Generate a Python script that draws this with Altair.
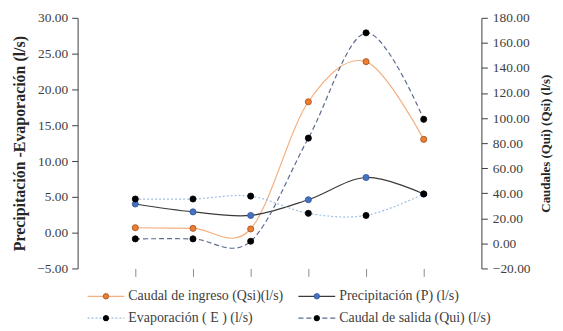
import altair as alt
import pandas as pd

# ---- data ----
periods = [1, 2, 3, 4, 5, 6]
caudal_ingreso = [12.5, 12.0, 11.5, 113.0, 145.0, 83.0]   # right axis
precipitacion = [4.0, 2.9, 2.4, 4.6, 7.7, 5.4]            # left axis
evaporacion = [4.7, 4.7, 5.1, 2.7, 2.4, 5.4]              # left axis
caudal_salida = [3.6, 3.6, 1.7, 84.0, 168.0, 99.0]         # right axis

left_ticks = [-5, 0, 5, 10, 15, 20, 25, 30]
right_ticks = [-20, 0, 20, 40, 60, 80, 100, 120, 140, 160, 180]

legend_labels = [
    "Caudal de ingreso (Qsi)(l/s)",
    "Precipitación (P) (l/s)",
    "Evaporación ( E ) (l/s)",
    "Caudal de salida (Qui) (l/s)",
]

df = pd.DataFrame({
    "t": periods,
    "qsi": caudal_ingreso,
    "p": precipitacion,
    "e": evaporacion,
    "qui": caudal_salida,
})

FONT = "Liberation Serif, Times New Roman, serif"
TXT = "#404040"

# styles per series (line colour, dash, marker fill, marker stroke)
STY = {
    "qsi": dict(line="#F4B183", dash=None, fill="#ED7D31", stroke="#9E4F1A"),
    "p": dict(line="#3A3A3A", dash=None, fill="#4472C4", stroke="#2F528F"),
    "e": dict(line="#9DBEE3", dash=[2, 2], fill="#000000", stroke="#000000"),
    "qui": dict(line="#5B6C8F", dash=[5, 3], fill="#000000", stroke="#000000"),
}

x_enc = alt.X(
    "t:Q",
    scale=alt.Scale(domain=[0, 7], nice=False, zero=False),
    axis=alt.Axis(values=periods, labels=False, domain=False, grid=False,
                  ticks=True, tickSize=8, tickColor="#8c8c8c", title=None),
)

left_scale = alt.Scale(domain=[-5, 30], nice=False, zero=False)
right_scale = alt.Scale(domain=[-20, 180], nice=False, zero=False)

left_axis = alt.Axis(
    orient="left", values=left_ticks, format=".2f", grid=False,
    labelFont=FONT, labelFontSize=13.5, labelColor=TXT, labelPadding=4,
    tickSize=6, tickColor=TXT, domainColor=TXT,
    title="Precipitación -Evaporación (l/s)", titleFont=FONT, titleFontSize=16,
    titleFontWeight="bold", titleColor="#262626", titleAngle=270,
    titleX=-58, titleY=126, titleAlign="center", titleBaseline="middle",
)
right_axis = alt.Axis(
    orient="right", values=right_ticks, format=".2f", grid=False,
    labelFont=FONT, labelFontSize=13.5, labelColor=TXT, labelPadding=5,
    tickSize=6, tickColor=TXT, domainColor=TXT,
    title="Caudales (Qui) (Qsi) (l/s)", titleFont=FONT, titleFontSize=13,
    titleFontWeight="bold", titleColor="#262626", titleAngle=270,
    titleX=64, titleY=126, titleAlign="center", titleBaseline="middle",
)


def series(field, scale, axis):
    s = STY[field]
    if axis is None:
        y = alt.Y(f"{field}:Q", scale=scale, axis=None)
    else:
        y = alt.Y(f"{field}:Q", scale=scale, axis=axis)
    base = alt.Chart(df).encode(x=x_enc, y=y)
    line_kw = dict(interpolate="cardinal", color=s["line"], strokeWidth=1.2)
    if s["dash"] is not None:
        line_kw["strokeDash"] = s["dash"]
    line = base.mark_line(**line_kw)
    pts = base.mark_point(filled=True, shape="circle", size=38, fill=s["fill"],
                          stroke=s["stroke"], strokeWidth=0.8, opacity=1)
    return alt.layer(line, pts)


qsi_layer = series("qsi", right_scale, right_axis)
p_layer = series("p", left_scale, left_axis)
e_layer = series("e", left_scale, None)
qui_layer = series("qui", right_scale, None)

# ---- custom legend (layout constants, relative to plot origin) ----
LEG_COL_X = [10, 222]   # line start per column
LEG_ROW_Y = [280, 302]  # row centre
LEG_LINE_LEN = 37
LEG_TEXT_GAP = 4
keys = ["qsi", "p", "e", "qui"]
rows = []
for i, (k, lab) in enumerate(zip(keys, legend_labels)):
    c, r = i % 2, i // 2
    x0 = LEG_COL_X[c]
    rows.append(dict(key=k, label=lab, x0=x0, x1=x0 + LEG_LINE_LEN,
                     xd=x0 + LEG_LINE_LEN / 2,
                     xt=x0 + LEG_LINE_LEN + LEG_TEXT_GAP, yy=LEG_ROW_Y[r]))
leg = pd.DataFrame(rows)

dash_range = [STY[k]["dash"] if STY[k]["dash"] is not None else [1, 0] for k in keys]
leg_base = alt.Chart(leg)
leg_rule = leg_base.mark_rule(strokeWidth=1.2).encode(
    x=alt.X("x0:Q", scale=None, axis=None),
    x2="x1:Q",
    y=alt.Y("yy:Q", scale=None, axis=None),
    color=alt.Color("key:N", scale=alt.Scale(domain=keys, range=[STY[k]["line"] for k in keys]), legend=None),
    strokeDash=alt.StrokeDash("key:N", scale=alt.Scale(domain=keys, range=dash_range), legend=None),
)
leg_pts = leg_base.mark_point(filled=True, shape="circle", size=30, strokeWidth=0.8, opacity=1).encode(
    x=alt.X("xd:Q", scale=None, axis=None),
    y=alt.Y("yy:Q", scale=None, axis=None),
    fill=alt.Fill("key:N", scale=alt.Scale(domain=keys, range=[STY[k]["fill"] for k in keys]), legend=None),
    stroke=alt.Stroke("key:N", scale=alt.Scale(domain=keys, range=[STY[k]["stroke"] for k in keys]), legend=None),
)
leg_txt = leg_base.mark_text(align="left", baseline="middle", font=FONT, fontSize=14, color=TXT).encode(
    x=alt.X("xt:Q", scale=None, axis=None),
    y=alt.Y("yy:Q", scale=None, axis=None),
    text="label:N",
)
legend_layer = alt.layer(leg_rule, leg_pts, leg_txt)

chart = alt.layer(qsi_layer, p_layer, e_layer, qui_layer, legend_layer).resolve_scale(
    y="independent"
).properties(
    width=406, height=252,
    padding={"left": 70, "top": 9, "right": 74, "bottom": 60},
    autosize=alt.AutoSizeParams(type="none"),
).configure_view(stroke=None)

chart.save("out.html", embed_options={"renderer": "svg", "actions": False})
